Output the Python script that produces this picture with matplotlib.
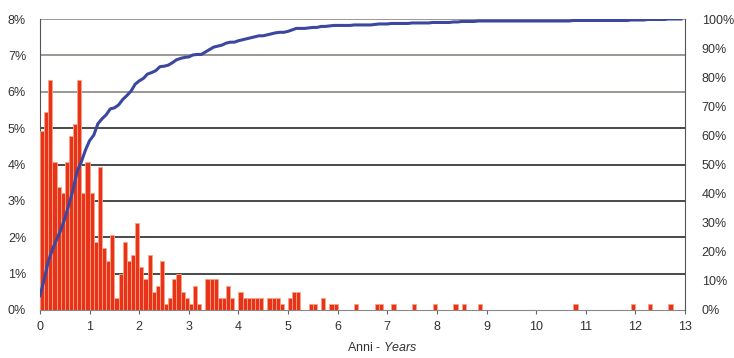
import numpy as np
import matplotlib
matplotlib.use("Agg")
import matplotlib.pyplot as plt

plt.rcParams['font.family'] = ['Liberation Sans', 'DejaVu Sans']
plt.rcParams['mathtext.fontset'] = 'custom'
plt.rcParams['mathtext.rm'] = 'Liberation Sans'
plt.rcParams['mathtext.it'] = 'Liberation Sans:italic'

# monthly share of cases (%), bin k covers years k/12 .. (k+1)/12
n_bins = 156
month_idx = list(range(72))
month_pct = [4.93, 5.43, 6.33, 4.06, 3.39, 3.23, 4.06, 4.77, 5.11, 6.33, 3.23, 4.06,
             3.23, 1.86, 3.92, 1.70, 1.36, 2.05, 0.34, 1.00, 1.86, 1.36, 1.50, 2.38,
             1.17, 0.84, 1.50, 0.50, 0.67, 1.36, 0.17, 0.34, 0.84, 1.00, 0.50, 0.34,
             0.17, 0.67, 0.17, 0.00, 0.84, 0.84, 0.84, 0.34, 0.34, 0.67, 0.34, 0.00,
             0.50, 0.34, 0.34, 0.34, 0.34, 0.34, 0.00, 0.34, 0.34, 0.34, 0.17, 0.00,
             0.34, 0.50, 0.50, 0.00, 0.00, 0.17, 0.17, 0.00, 0.34, 0.00, 0.17, 0.17]
# isolated single cases later on
late_idx = [76, 81, 82, 85, 90, 95, 100, 102, 106, 129, 143, 147, 152]
late_pct = [0.17] * len(late_idx)

left_ticks = ["0%", "1%", "2%", "3%", "4%", "5%", "6%", "7%", "8%"]
right_ticks = ["0%", "10%", "20%", "30%", "40%", "50%", "60%", "70%", "80%", "90%", "100%"]
x_ticks = list(range(14))

pct = np.zeros(n_bins)
pct[month_idx] = month_pct
pct[late_idx] = late_pct
years = np.arange(n_bins) / 12.0
cum = np.cumsum(pct) / pct.sum() * 100

fig = plt.figure(figsize=(7.34, 3.58), dpi=100)
ax = fig.add_axes([40/734, 1-310/358, 645/734, 291/358])
ax2 = ax.twinx()

ax.bar(years, pct, width=1/12, align='edge', color='#e8321a',
       edgecolor='#f7a583', linewidth=0.6, zorder=3)

ax.set_xlim(0, 13)
ax.set_ylim(0, 8)
ax.set_yticks(range(9))
ax.set_yticklabels(left_ticks)
ax.set_xticks(x_ticks)

# gridlines: upper ones look lighter in the original
for i in range(1, 9):
    c = '#8c8580' if i >= 6 else '#2a2a2a'
    ax.axhline(i, color=c, lw=1.2, zorder=1)

ax2.plot(years, cum, color='#3c47a0', lw=2.2, zorder=5)
ax2.set_ylim(0, 100)
ax2.set_yticks(range(0, 101, 10))
ax2.set_yticklabels(right_ticks)

for a in (ax, ax2):
    for s in a.spines.values():
        s.set_visible(False)
    a.tick_params(axis='y', length=0, labelsize=9, colors='#333333')
ax.spines['left'].set_visible(True)
ax.spines['left'].set_color('#555555')
ax2.spines['right'].set_visible(True)
ax2.spines['right'].set_color('#555555')
ax.spines['bottom'].set_visible(True)
ax.spines['bottom'].set_color('#888888')
ax.tick_params(axis='y', pad=10)
ax2.tick_params(axis='y', pad=12)
ax.tick_params(axis='x', length=3, color='#666666', labelsize=9,
               labelcolor='#333333', pad=5)

ax.set_xlabel(r"Anni - $\it{Years}$", fontsize=9, color='#333333')
ax.xaxis.set_label_coords(0.53, -0.105)

fig.savefig("out.png", dpi=100)
